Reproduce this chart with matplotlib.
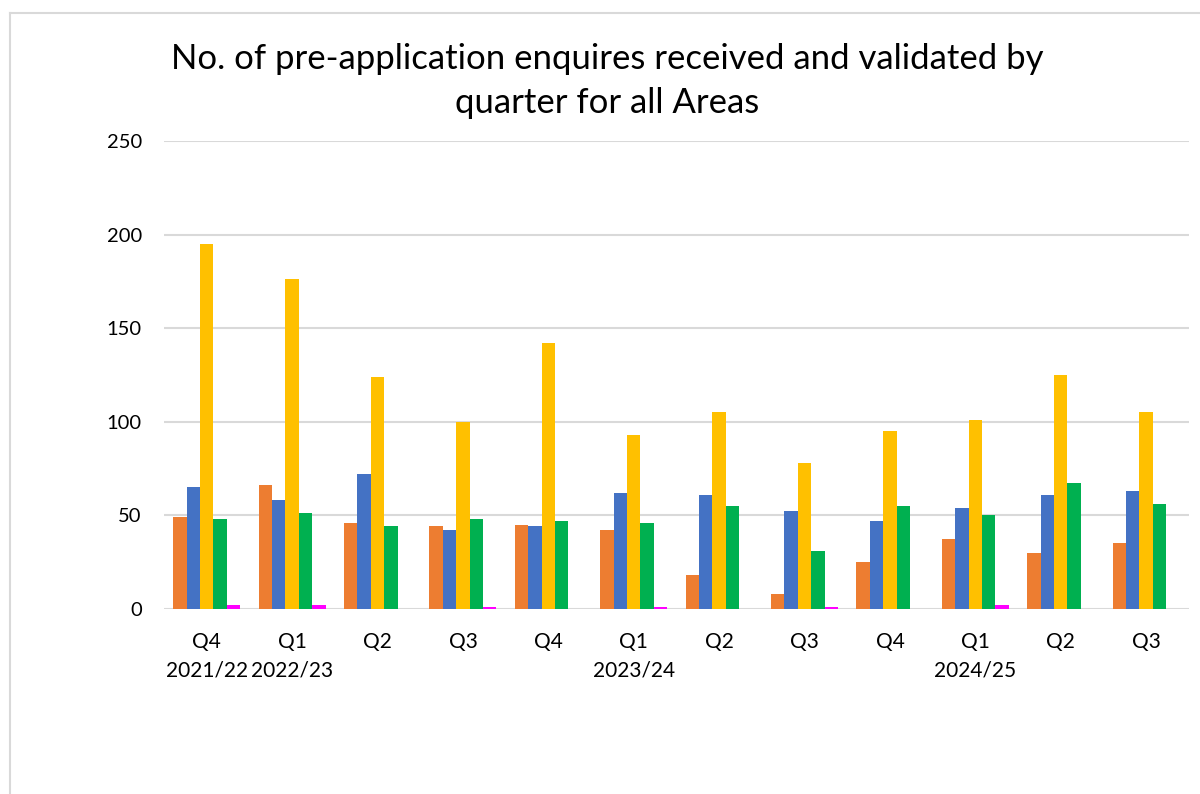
import matplotlib
matplotlib.use("Agg")
import matplotlib.pyplot as plt
from matplotlib.lines import Line2D
import numpy as np

plt.rcParams['font.family'] = ['Lato', 'DejaVu Sans']

categories = ["Q4\n2021/22", "Q1\n2022/23", "Q2", "Q3", "Q4", "Q1\n2023/24",
              "Q2", "Q3", "Q4", "Q1\n2024/25", "Q2", "Q3"]

series_orange = [49, 66, 46, 44, 45, 42, 18, 8, 25, 37, 30, 35]
series_blue = [65, 58, 72, 42, 44, 62, 61, 52, 47, 54, 61, 63]
series_yellow = [195, 176, 124, 100, 142, 93, 105, 78, 95, 101, 125, 105]
series_green = [48, 51, 44, 48, 47, 46, 55, 31, 55, 50, 67, 56]
series_magenta = [2, 2, 0, 1, 0, 1, 0, 1, 0, 2, 0, 0]

series = [series_orange, series_blue, series_yellow, series_green, series_magenta]
colors = ["#ED7D31", "#4472C4", "#FFC000", "#00B050", "#FF00FF"]

title = "No. of pre-application enquires received and validated by\nquarter for all Areas"
yticks = [0, 50, 100, 150, 200, 250]

fig = plt.figure(figsize=(12, 7.94), dpi=100)
ax = fig.add_axes([0.1367, 0.2334, 0.854, 0.589])

x = np.arange(len(categories))
bw = 0.157
for i, (vals, c) in enumerate(zip(series, colors)):
    ax.bar(x + (i - 2) * bw, vals, width=bw, color=c, linewidth=0, zorder=3)

ax.set_xlim(-0.5, len(categories) - 0.5)
ax.set_ylim(0, 250)
ax.set_yticks(yticks)
ax.set_yticklabels([str(v) for v in yticks], fontsize=14.5)
ax.set_xticks(x)
ax.set_xticklabels(categories, fontsize=15, linespacing=1.5)
ax.tick_params(axis='y', length=0, pad=16)
ax.tick_params(axis='x', length=0, pad=17)
ax.yaxis.grid(True, color="#d9d9d9", linewidth=1.5, zorder=0)
for s in ax.spines.values():
    s.set_visible(False)

fig.text(0.506, 0.946, title, ha='center', va='top', fontsize=25,
         linespacing=1.45, color='black')

# chart-area border (left and top edges visible)
fig.add_artist(Line2D([10/1200, 10/1200], [0, 1 - 13/794], color="#d9d9d9", linewidth=1.5,
                      transform=fig.transFigure))
fig.add_artist(Line2D([10/1200, 1], [1 - 13/794, 1 - 13/794], color="#d9d9d9", linewidth=1.5,
                      transform=fig.transFigure))

fig.savefig("out.png", dpi=100, facecolor="white")
